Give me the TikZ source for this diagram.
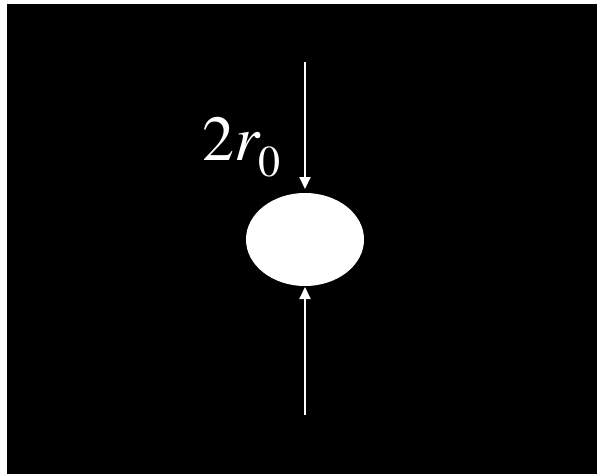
\documentclass[tikz,border=0pt]{standalone}
\usepackage[T1]{fontenc}
\usepackage{times}
\usetikzlibrary{arrows.meta, positioning, shapes.geometric}

\begin{document}
\begin{tikzpicture}[
    x=1pt, y=-1pt,
    every node/.style = {inner sep=0pt, outer sep=0pt},
    blob/.style  = {ellipse, fill=white, draw=none,
                    minimum width=118pt, minimum height=93pt},
    arr/.style   = {-{Triangle[length=12pt,width=11pt]}, line width=2pt, draw=white},
    lbl/.style   = {text=white, font=\fontsize{64}{64}\selectfont, anchor=base west},
]

%% frame
\useasboundingbox (0,0) rectangle (601,474);
\fill[black] (7,4) rectangle (597,474);

%% particle
\node[blob] (blob) at (305,239.5) {};

%% arrow ends
\coordinate (topend) at (305,62);
\coordinate (botend) at (305,415);

%% arrows
\draw[arr, shorten >=4pt] (topend) -- (blob.north);
\draw[arr, shorten >=1pt] (botend) -- (blob.south);

%% label
\node[lbl] (radius) at (202,160)
    {2{\itshape r}\raisebox{-0.26em}{\fontsize{44}{44}\selectfont 0}};

\end{tikzpicture}
\end{document}
